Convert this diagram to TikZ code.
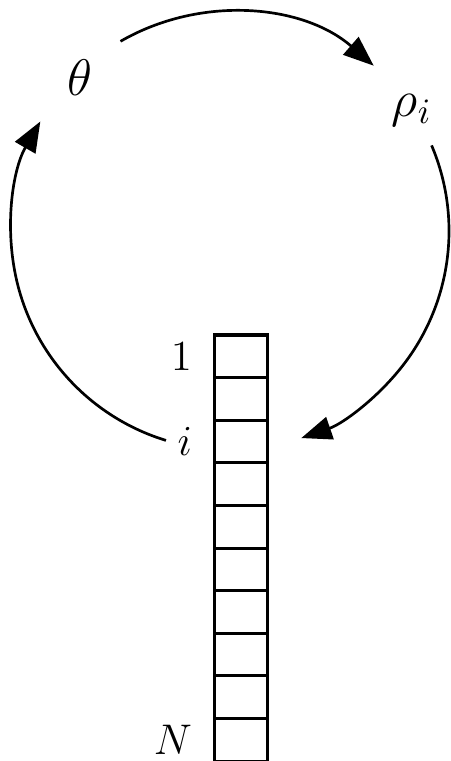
\documentclass[tikz,border=0pt]{standalone}
\usepackage{amsmath,amssymb}
\usepackage{tikz}
\usetikzlibrary{positioning,arrows.meta}

\begin{document}
\begin{tikzpicture}[x=0.28pt,y=0.28pt,>={Triangle[length=8.5pt,width=6.5pt]},
  cell/.style={draw,line width=0.85pt,minimum width=15.1pt,minimum height=11.93pt,inner sep=0pt,outer sep=0pt},
  tag/.style={font=\large,inner sep=2pt},
  loop/.style={->,line width=0.75pt}]
\useasboundingbox (0,0) rectangle (450,761);
\coordinate (o) at (230,530);
\node[font=\Large] (theta) at (80,683) {$\theta$};
\node[font=\Large] (rho) at (412,651) {$\rho_i$};
% the column of N cells
\node[cell] (c1) at (241,404.7) {};
\foreach \k [remember=\k as \j (initially 1)] in {2,...,10}
  \node[cell,below=0pt of c\j] (c\k) {};
\node[tag,left=4pt of c1] (one) {$1$};
\node[tag,left=4pt of c3] (idx) {$i$};
\node[tag,left=4pt of c10] (last) {$N$};
% the cycle
\draw[loop] ([shift={(120:219)}]o) arc[start angle=120,end angle=49,radius=219];
\draw[loop] ([shift={(23:219)}]o) arc[start angle=23,end angle=-71,radius=219];
\draw[loop] ([shift={(253:219)}]o) arc[start angle=253,end angle=150,radius=219];
\end{tikzpicture}
\end{document}
